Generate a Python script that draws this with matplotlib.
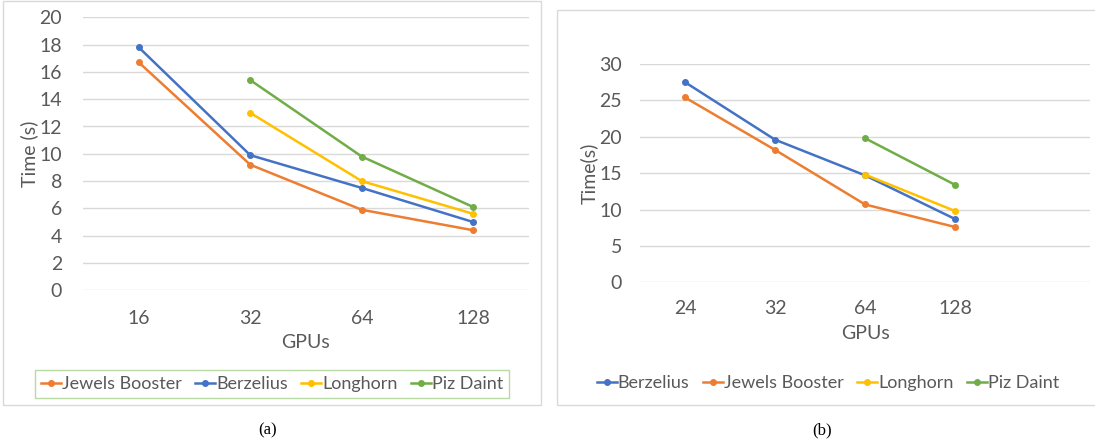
import numpy as np
import matplotlib.pyplot as plt
from matplotlib.patches import Rectangle

plt.rcParams['font.family'] = ['Lato', 'DejaVu Sans']

# panel (a)
gpus_a = ['16', '32', '64', '128']
jewels_a = [16.7, 9.2, 5.9, 4.4]
berz_a = [17.8, 9.9, 7.5, 5.0]
long_a = [np.nan, 13.0, 8.0, 5.6]
piz_a = [np.nan, 15.4, 9.8, 6.1]

# panel (b)
gpus_b = ['24', '32', '64', '128']
berz_b = [27.5, 19.6, 14.7, 8.7]
jewels_b = [25.4, 18.2, 10.7, 7.6]
long_b = [np.nan, np.nan, 14.8, 9.8]
piz_b = [np.nan, np.nan, 19.8, 13.4]

BLUE = '#4472C4'
ORANGE = '#ED7D31'
YELLOW = '#FFC000'
GREEN = '#70AD47'
TXT = '#595959'
GRID = '#D9D9D9'

W, H = 1095, 445
fig = plt.figure(figsize=(W / 100, H / 100), dpi=100)


def box(x0, y0, x1, y1):
    # pixel box -> figure fraction, y measured from top
    return [x0 / W, 1 - y1 / H, (x1 - x0) / W, (y1 - y0) / H]


# chart frames
fig.patches.append(Rectangle((3 / W, 1 - 405 / H), 538 / W, 404 / H,
                             transform=fig.transFigure, fill=False,
                             edgecolor=GRID, lw=1))
fig.patches.append(Rectangle((557 / W, 1 - 405 / H), 540 / W, 395 / H,
                             transform=fig.transFigure, fill=False,
                             edgecolor=GRID, lw=1))


def style(ax, ticks, ymax, ystep, ylabel, ylab_x, xlab_y, xpad, ypad, ncat):
    for s in ax.spines.values():
        s.set_visible(False)
    ax.set_xlim(-0.5, ncat - 0.5)
    ax.set_ylim(0, ymax)
    ax.set_yticks(np.arange(0, ymax + 0.1, ystep))
    ax.set_xticks(range(len(ticks)))
    ax.set_xticklabels(ticks)
    ax.yaxis.grid(True, color=GRID, lw=1)
    ax.set_axisbelow(True)
    ax.tick_params(length=0, labelsize=14, colors=TXT)
    ax.tick_params(axis='x', pad=xpad)
    ax.tick_params(axis='y', pad=ypad)
    ax.set_ylabel(ylabel, fontsize=14, color=TXT)
    ax.yaxis.set_label_coords(ylab_x, 0.5)
    ax.set_xlabel('GPUs', fontsize=14, color=TXT)
    ax.xaxis.set_label_coords(0.5, xlab_y)


kw = dict(lw=1.8, marker='o', ms=4, clip_on=False)
legkw = dict(loc='center', bbox_transform=fig.transFigure, ncol=4,
             fontsize=13, handlelength=1.1, handletextpad=0.05,
             columnspacing=0.75, labelcolor=TXT, numpoints=1)

ax1 = fig.add_axes(box(83, 17.3, 529, 290.3))
x = range(len(gpus_a))
ax1.plot(x, jewels_a, color=ORANGE, label='Jewels Booster', **kw)
ax1.plot(x, berz_a, color=BLUE, label='Berzelius', **kw)
ax1.plot(x, long_a, color=YELLOW, label='Longhorn', **kw)
ax1.plot(x, piz_a, color=GREEN, label='Piz Daint', **kw)
style(ax1, gpus_a, 20, 2, 'Time (s)', -0.101, -0.16, 14, 15, 4)
leg1 = ax1.legend(bbox_to_anchor=(272 / W, 1 - 384 / H), frameon=True,
                  fancybox=False, borderpad=0.35, **legkw)
leg1.get_frame().set_edgecolor('#A9D18E')
leg1.get_frame().set_linewidth(1)

ax2 = fig.add_axes(box(640, 64, 1090, 282.3))
x = range(len(gpus_b))
ax2.plot(x, berz_b, color=BLUE, label='Berzelius', **kw)
ax2.plot(x, jewels_b, color=ORANGE, label='Jewels Booster', **kw)
ax2.plot(x, long_b, color=YELLOW, label='Longhorn', **kw)
ax2.plot(x, piz_b, color=GREEN, label='Piz Daint', **kw)
style(ax2, gpus_b, 30, 5, 'Time(s)', -0.093, -0.196, 13, 13, 5)
ax2.legend(bbox_to_anchor=(828 / W, 1 - 383 / H), frameon=False, **legkw)

fig.text(268 / W, 1 - 430 / H, '(a)', ha='center', va='center',
         fontsize=12, family='Liberation Serif')
fig.text(822 / W, 1 - 430 / H, '(b)', ha='center', va='center',
         fontsize=12, family='Liberation Serif')

fig.savefig('out.png', dpi=100)
